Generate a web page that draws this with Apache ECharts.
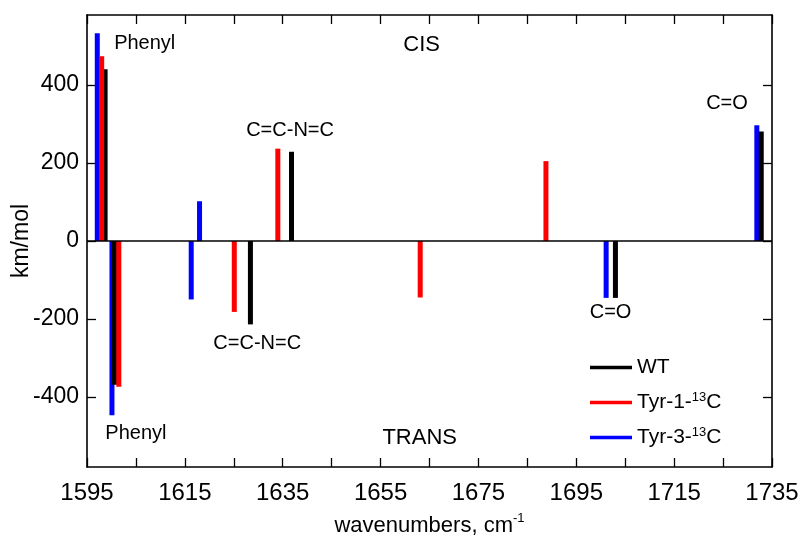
<!DOCTYPE html>
<html>
<head>
<meta charset="utf-8">
<script src="https://cdn.jsdelivr.net/npm/echarts@6/dist/echarts.min.js"></script>
<style>html,body{margin:0;padding:0;background:#fff}#c{width:800px;height:546px}</style>
</head>
<body>
<div id="c"></div>
<script>
// ---- data ----
const seriesNames = ['WT', 'Tyr-1-13C', 'Tyr-3-13C'];
const wtX   = [1598.7, 1600.6, 1628.4, 1636.8, 1703.0, 1732.8];
const wtY   = [441, -369, -214, 229, -146, 281];
const tyr1X = [1598.0, 1601.5, 1625.1, 1634.0, 1663.1, 1688.8];
const tyr1Y = [474, -374, -182, 237, -145, 205];
const tyr3X = [1597.1, 1600.1, 1616.3, 1618.0, 1701.1, 1731.9];
const tyr3Y = [533, -447, -150, 102, -146, 297];
const xTicks = [1595, 1615, 1635, 1655, 1675, 1695, 1715, 1735];
const yTicks = [-400, -200, 0, 200, 400];
const annoText = ['Phenyl', 'CIS', 'C=C-N=C', 'C=C-N=C', 'C=O', 'C=O', 'Phenyl', 'TRANS'];
const annoX = [1606.8, 1663.4, 1636.5, 1629.8, 1725.8, 1702.0, 1605.0, 1663.0];
const annoY = [506, 502, 284, -262, 352, -184, -494, -506];

const X_MIN = 1595, X_MAX = 1735, Y_MIN = -580, Y_MAX = 580;
const FONT = "'Liberation Sans', Arial, sans-serif";
const BAR_W = 5;

function pairs(xs, ys) { return xs.map((x, i) => [x, ys[i]]); }

function barRender(params, api) {
  const x = api.value(0), y = api.value(1);
  const p0 = api.coord([x, 0]);
  const p1 = api.coord([x, y]);
  return {
    type: 'rect',
    shape: { x: p0[0] - BAR_W / 2, y: Math.min(p0[1], p1[1]), width: BAR_W, height: Math.abs(p1[1] - p0[1]) },
    style: { fill: api.visual('color') }
  };
}

function annoRender(params, api) {
  const p = api.coord([api.value(0), api.value(1)]);
  const t = annoText[params.dataIndex];
  const big = (t === 'CIS' || t === 'TRANS');
  return {
    type: 'text',
    x: p[0], y: p[1],
    style: { text: t, align: 'center', verticalAlign: 'middle', fill: '#000',
      font: (big ? 22 : 20) + 'px ' + FONT }
  };
}

const chart = echarts.init(document.getElementById('c'), null, { renderer: 'canvas' });

const axisLineStyle = { color: '#000', width: 1.6 };

const option = {
  animation: false,
  backgroundColor: '#fff',
  textStyle: { fontFamily: FONT, color: '#000' },
  grid: { left: 87, right: 28, top: 15, bottom: 79, containLabel: false, outerBoundsMode: 'none' },
  legend: {
    orient: 'vertical', left: 585, top: 352,
    data: seriesNames,
    icon: 'rect', itemWidth: 42, itemHeight: 3.5, itemGap: 13,
    textStyle: { fontSize: 21, fontFamily: FONT, color: '#000', lineHeight: 21,
      rich: { s: { fontSize: 13, fontFamily: FONT, color: '#000', padding: [0, 0, 10, 0] } } },
    formatter: n => n.replace('13', '{s|13}')
  },
  xAxis: [
    {
      type: 'value', position: 'bottom', min: X_MIN, max: X_MAX, interval: 10,
      axisLine: { show: true, onZero: false, lineStyle: axisLineStyle },
      axisTick: { show: true, inside: true, length: 9, lineStyle: { color: '#000', width: 1.3 } },
      splitLine: { show: false },
      axisLabel: { show: true, margin: 14, fontSize: 24, color: '#000', fontFamily: FONT,
        showMinLabel: true, showMaxLabel: true,
        formatter: v => (xTicks.indexOf(v) >= 0 ? String(v) : '') },
      name: 'wavenumbers, cm{sup|-1}', nameLocation: 'middle', nameGap: 45, nameMoveOverlap: false,
      nameTextStyle: { fontSize: 22, color: '#000', fontFamily: FONT,
        rich: { sup: { fontSize: 13, fontFamily: FONT, color: '#000', padding: [0, 0, 14, 0] } } }
    },
    {
      type: 'value', position: 'top', min: X_MIN, max: X_MAX, interval: 10,
      axisLine: { show: true, onZero: false, lineStyle: axisLineStyle },
      axisTick: { show: true, inside: true, length: 9, lineStyle: { color: '#000', width: 1.3 } },
      splitLine: { show: false }, axisLabel: { show: false }
    }
  ],
  yAxis: [
    {
      type: 'value', position: 'left', min: Y_MIN, max: Y_MAX,
      axisLine: { show: true, onZero: false, lineStyle: axisLineStyle },
      axisTick: { show: true, inside: true, length: 9, customValues: yTicks, lineStyle: { color: '#000', width: 1.3 } },
      splitLine: { show: false },
      axisLabel: { show: true, customValues: yTicks, margin: 8, fontSize: 23, color: '#000', fontFamily: FONT },
      name: 'km/mol', nameLocation: 'middle', nameRotate: 90, nameGap: 54, nameMoveOverlap: false,
      nameTextStyle: { fontSize: 23, color: '#000', fontFamily: FONT }
    },
    {
      type: 'value', position: 'right', min: Y_MIN, max: Y_MAX,
      axisLine: { show: true, onZero: false, lineStyle: axisLineStyle },
      axisTick: { show: true, inside: true, length: 9, customValues: yTicks, lineStyle: { color: '#000', width: 1.3 } },
      splitLine: { show: false }, axisLabel: { show: false }
    }
  ],
  series: [
    { name: 'Tyr-3-13C', type: 'custom', renderItem: barRender, itemStyle: { color: '#0000ff' },
      encode: { x: 0, y: 1 }, data: pairs(tyr3X, tyr3Y), z: 2 },
    { name: 'WT', type: 'custom', renderItem: barRender, itemStyle: { color: '#000000' },
      encode: { x: 0, y: 1 }, data: pairs(wtX, wtY), z: 3 },
    { name: 'Tyr-1-13C', type: 'custom', renderItem: barRender, itemStyle: { color: '#ff0000' },
      encode: { x: 0, y: 1 }, data: pairs(tyr1X, tyr1Y), z: 4 },
    { name: 'zero', type: 'line', data: [[X_MIN, 0], [X_MAX, 0]], showSymbol: false, symbol: 'none',
      lineStyle: { color: '#000', width: 1.5 }, silent: true, z: 5 },
    { name: 'annotations', type: 'custom', renderItem: annoRender, silent: true,
      encode: { x: 0, y: 1 }, data: pairs(annoX, annoY), z: 6 }
  ]
};
chart.setOption(option);
</script>
</body>
</html>
